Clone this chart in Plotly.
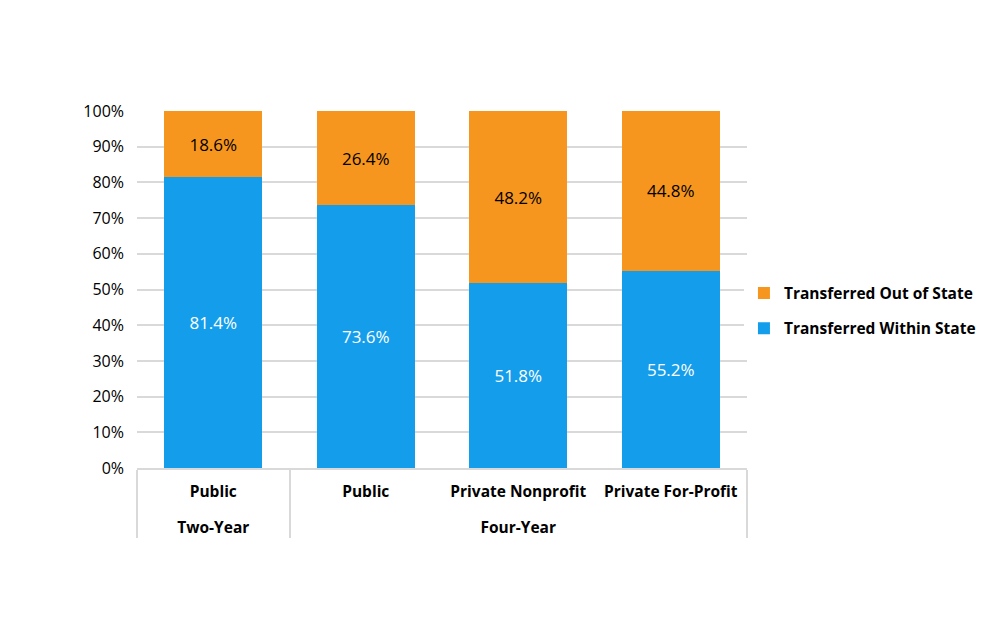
import plotly.graph_objects as go

groups = ["Two-Year", "Four-Year", "Four-Year", "Four-Year"]
sectors = ["Public", "Public", "Private Nonprofit", "Private For-Profit"]
within_state = [81.4, 73.6, 51.8, 55.2]
out_of_state = [18.6, 26.4, 48.2, 44.8]
y_ticks = [0, 10, 20, 30, 40, 50, 60, 70, 80, 90, 100]

BLUE = "#149DEB"
ORANGE = "#F7961E"
FONT = "Open Sans"

# page body margin of 8px is compensated in the margins
x = [groups, [s + "<br> " for s in sectors]]

fig = go.Figure()
fig.add_trace(go.Bar(
    x=x, y=[v / 100 for v in within_state], name="Transferred Within State",
    legendgroup="a", legendrank=2,
    marker=dict(color=BLUE, line=dict(width=0)),
    text=[f"{v:.1f}%" for v in within_state], textposition="inside",
    insidetextanchor="middle", textfont=dict(color="white", size=17, family=FONT),
    hoverinfo="skip",
))
fig.add_trace(go.Bar(
    x=x, y=[v / 100 for v in out_of_state], name="Transferred Out of State",
    legendgroup="b", legendrank=1,
    marker=dict(color=ORANGE, line=dict(width=0)),
    text=[f"{v:.1f}%" for v in out_of_state], textposition="inside",
    insidetextanchor="middle", textfont=dict(color="black", size=17, family=FONT),
    hoverinfo="skip",
))

fig.update_layout(
    width=995, height=620,
    barmode="stack", bargap=0.355,
    plot_bgcolor="white", paper_bgcolor="white",
    margin=dict(l=129, r=256, t=103, b=160),
    font=dict(family=FONT, size=16, color="black"),
    uniformtext=dict(mode="show", minsize=17),
    legend=dict(
        traceorder="grouped", x=0.995, y=0.44, xanchor="left", yanchor="middle",
        font=dict(family=FONT, size=15.5, color="black", weight="bold"),
        itemwidth=30, tracegroupgap=12,
    ),
    showlegend=True,
)
fig.update_yaxes(
    range=[0, 1], tickvals=[t / 100 for t in y_ticks],
    ticktext=[f"{t}%" for t in y_ticks],
    showgrid=True, gridcolor="#d9d9d9", gridwidth=1.5,
    zeroline=False, showline=False, ticks="", ticklen=0,
    ticklabelstandoff=12,
    tickfont=dict(size=16, family=FONT),
)
fig.update_xaxes(
    type="multicategory", showline=True, linecolor="#d9d9d9", linewidth=1.5,
    showdividers=True, dividercolor="#d9d9d9", dividerwidth=1.5,
    tickfont=dict(size=15.5, family=FONT, weight="bold"),
    ticks="", ticklabelstandoff=9,
)

fig.write_html("out.html")
